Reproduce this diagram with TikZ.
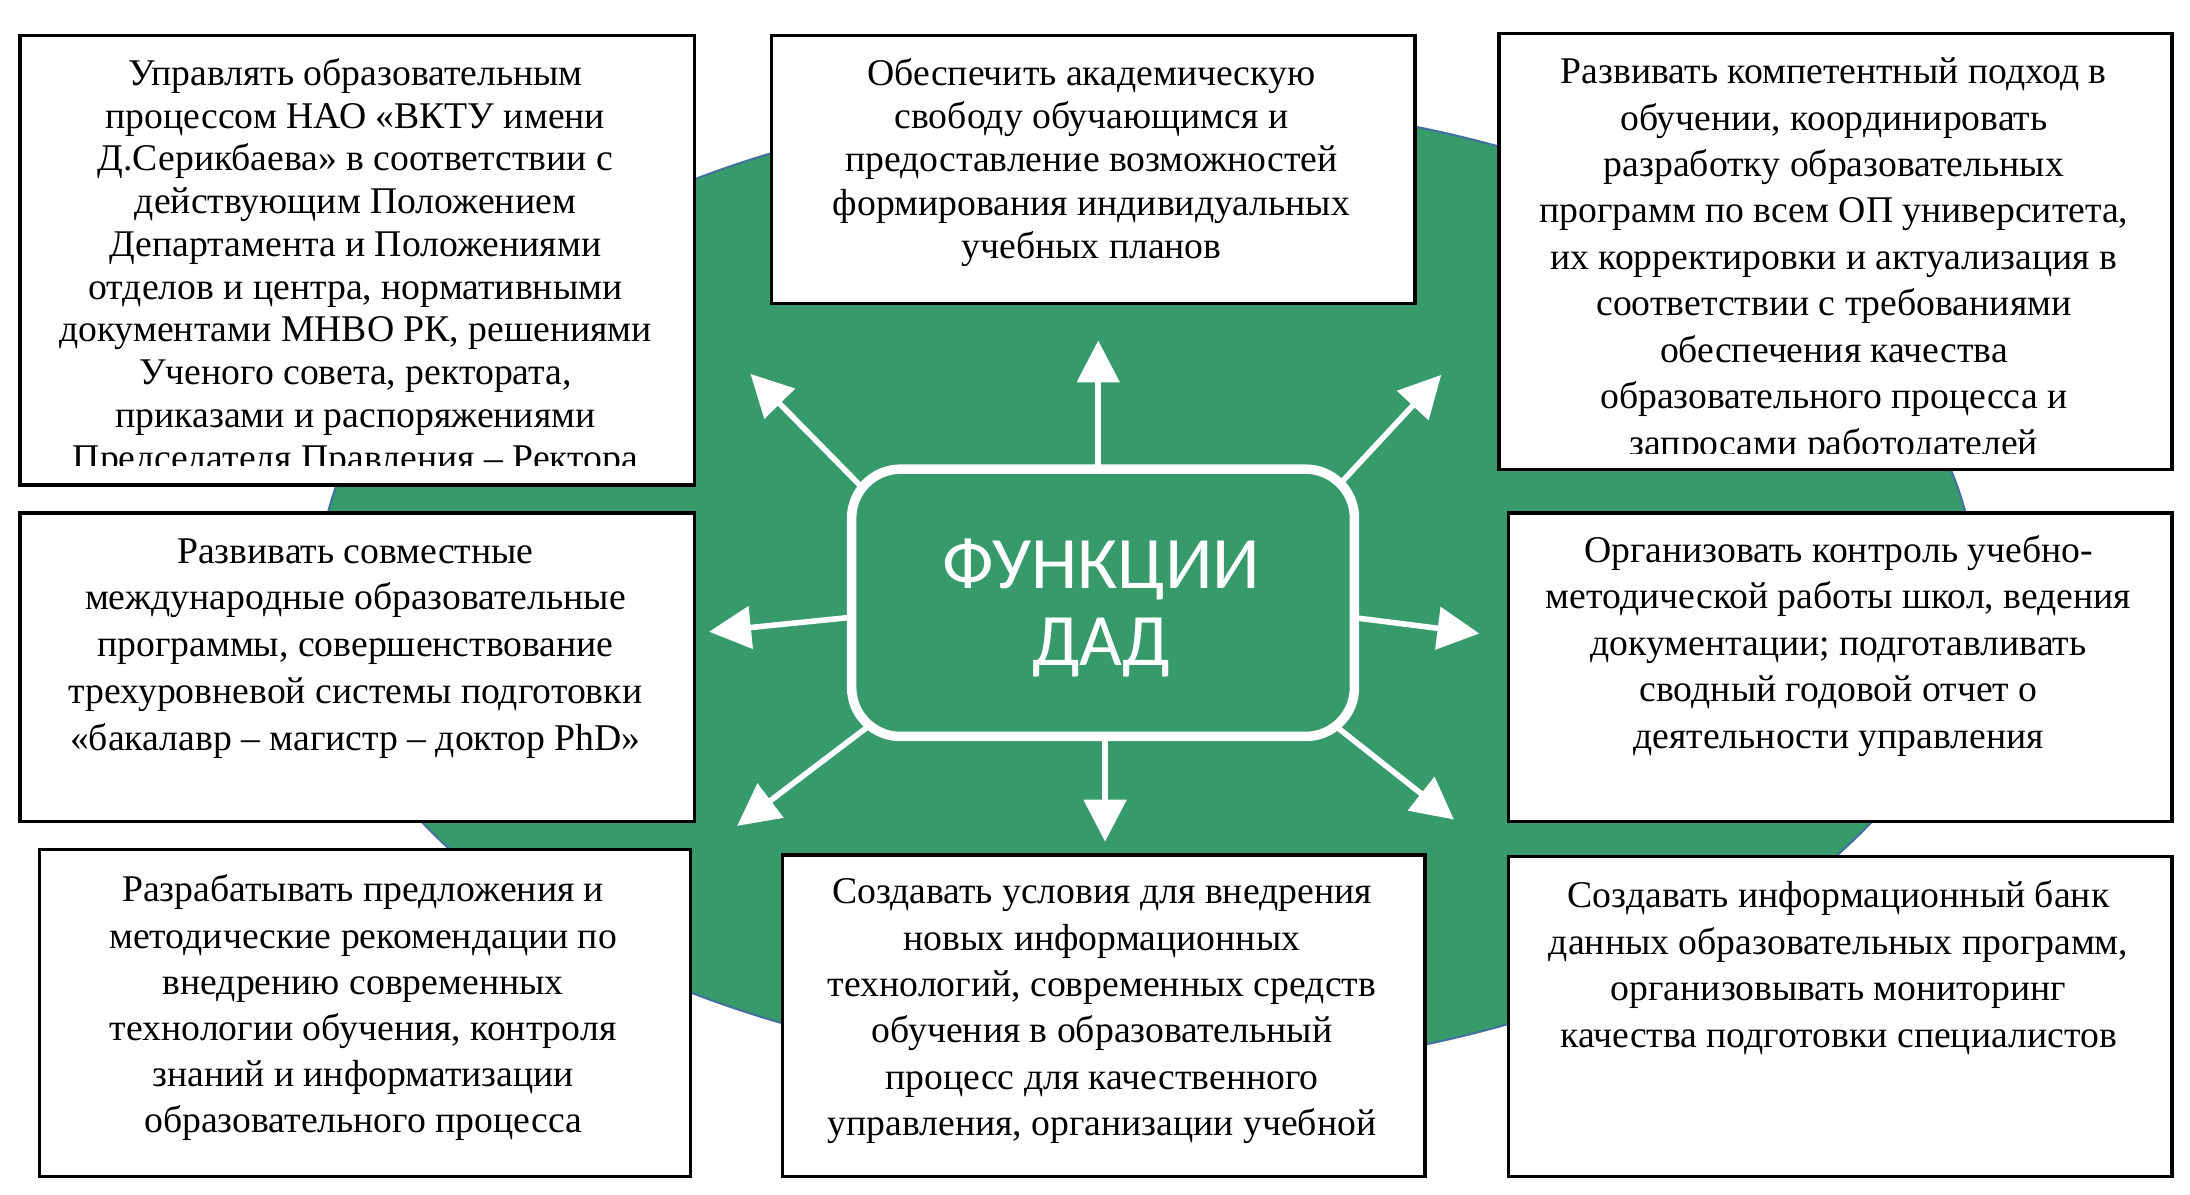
\documentclass[tikz,border=0pt]{standalone}
\usepackage{fontspec}
\setmainfont{Liberation Serif}
\newfontfamily\hdfont{Carlito}
\usetikzlibrary{arrows.meta,shapes.geometric}
\pgfdeclarelayer{ellayer}
\pgfdeclarelayer{arlayer}
\pgfsetlayers{ellayer,arlayer,main}
\definecolor{dadgreen}{RGB}{54,154,107}
\definecolor{dadblue}{RGB}{65,113,156}
\tikzset{
  fbox/.style={draw=black, line width=2.4pt, fill=white, inner sep=0pt, anchor=north west},
  ftext/.style={anchor=north, inner sep=0pt, align=center},
  arr/.style={draw=white, line width=4pt, -{Triangle[length=30pt,width=30pt]}},
}
\newcommand\fsz[1]{\fontsize{27pt}{#1pt}\selectfont}
\begin{document}
\begin{tikzpicture}[x=1pt,y=-1pt]
\useasboundingbox (0,0) rectangle (1568,855.6);
\begin{pgfonlayer}{ellayer}
\fill[white] (0,0) rectangle (1568,855.6);
\node[ellipse, fill=dadgreen, draw=dadblue, line width=1.5pt, inner sep=0pt,
      minimum width=1186pt, minimum height=696pt] (bg) at (821,420) {};
\end{pgfonlayer}

% boxes
\node[fbox, minimum width=483pt, minimum height=322pt] (b1) at (13,24) {};
\node[fbox, minimum width=461pt, minimum height=192pt] (b2) at (551,24) {};
\node[fbox, minimum width=482pt, minimum height=312pt] (b3) at (1072,23) {};
\node[fbox, minimum width=483pt, minimum height=221pt] (b4) at (13,366) {};
\node[fbox, minimum width=475pt, minimum height=221pt] (b5) at (1079,366) {};
\node[fbox, minimum width=466pt, minimum height=234pt] (b6) at (27,607) {};
\node[fbox, minimum width=460pt, minimum height=230pt] (b7) at (559,611) {};
\node[fbox, minimum width=475pt, minimum height=229pt] (b8) at (1079,612) {};

% texts
\begin{scope}
\clip (13,24) rectangle (496,333.5);
\node[ftext, font=\fsz{30.6}] (t1) at (254.5,39.5) {\strut Управлять образовательным\\
процессом НАО «ВКТУ имени\\
Д.Серикбаева» в соответствии с\\
действующим Положением\\
Департамента и Положениями\\
отделов и центра, нормативными\\
документами МНВО РК, решениями\\
Ученого совета, ректората,\\
приказами и распоряжениями\\
Председателя Правления – Ректора};
\end{scope}
\node[ftext, font=\fsz{31}] (t2) at (781.5,39.2) {\strut Обеспечить академическую\\
свободу обучающимся и\\
предоставление возможностей\\
формирования индивидуальных\\
учебных планов};
\begin{scope}
\clip (1072,23) rectangle (1554,324.5);
\node[ftext, font=\fsz{33.24}] (t3) at (1313,36.4) {\strut Развивать компетентный подход в\\
обучении, координировать\\
разработку образовательных\\
программ по всем ОП университета,\\
их корректировки и актуализация в\\
соответствии с требованиями\\
обеспечения качества\\
образовательного процесса и\\
запросами работодателей};
\end{scope}
\node[ftext, font=\fsz{33.5}] (t4) at (254.5,379.5) {\strut Развивать совместные\\
международные образовательные\\
программы, совершенствование\\
трехуровневой системы подготовки\\
«бакалавр – магистр – доктор PhD»};
\node[ftext, font=\fsz{33.4}] (t5) at (1316.4,378.8) {\strut Организовать контроль учебно-\\
методической работы школ, ведения\\
документации; подготавливать\\
сводный годовой отчет о\\
деятельности управления};
\node[ftext, font=\fsz{33}] (t6) at (260,622.5) {\strut Разрабатывать предложения и\\
методические рекомендации по\\
внедрению современных\\
технологии обучения, контроля\\
знаний и информатизации\\
образовательного процесса};
\node[ftext, font=\fsz{33.2}] (t7) at (789,623.6) {\strut Создавать условия для внедрения\\
новых информационных\\
технологий, современных средств\\
обучения в образовательный\\
процесс для качественного\\
управления, организации учебной};
\node[ftext, font=\fsz{33.3}] (t8) at (1316.4,626.3) {\strut Создавать информационный банк\\
данных образовательных программ,\\
организовывать мониторинг\\
качества подготовки специалистов};

% central node
\node[draw=white, line width=6.8pt, fill=dadgreen, rounded corners=35pt, inner sep=0pt,
      minimum width=360pt, minimum height=191.4pt] (c) at (789.75,431.6) {};
\node[ftext, text=white, font=\hdfont\fontsize{53pt}{55pt}\selectfont] (ct) at (788.5,382.5) {\strut ФУНКЦИИ\\ДАД};

% arrow coordinates
\coordinate (s1) at (786.3,350);   \coordinate (e1) at (786.3,243.8);
\coordinate (s2) at (624.3,356.2); \coordinate (e2) at (537.3,267.7);
\coordinate (s3) at (952.4,354);   \coordinate (e3) at (1031.9,268.4);
\coordinate (s4) at (621.2,440.8); \coordinate (e4) at (507.7,452.3);
\coordinate (s5) at (959,440.9);   \coordinate (e5) at (1059.2,453.6);
\coordinate (s6) at (628.5,514.9); \coordinate (e6) at (527.8,591.3);
\coordinate (s7) at (791.2,515);   \coordinate (e7) at (791.2,602.6);
\coordinate (s8) at (948.1,513.4); \coordinate (e8) at (1041,586.8);
\begin{pgfonlayer}{arlayer}
\foreach \i in {1,...,8} \draw[arr] (s\i) -- (e\i);
\end{pgfonlayer}
\end{tikzpicture}
\end{document}
